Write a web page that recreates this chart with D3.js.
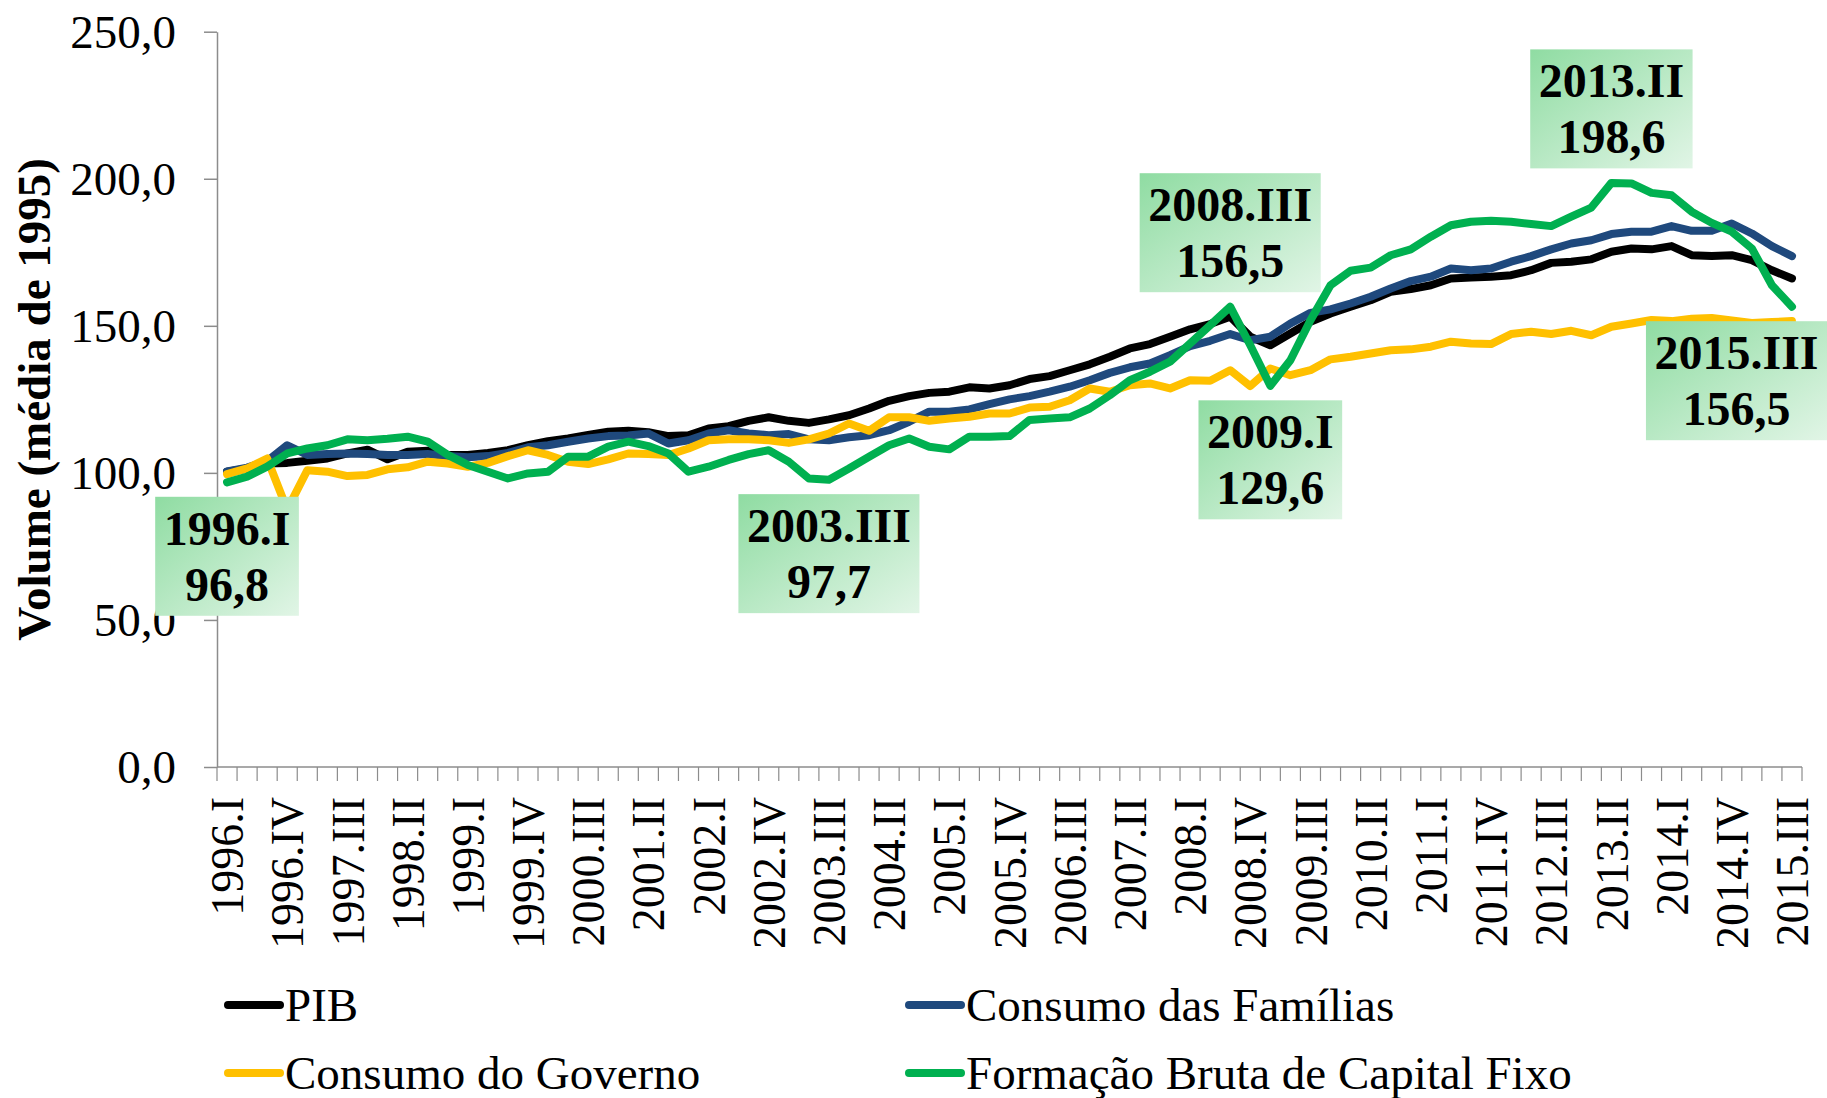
<!DOCTYPE html>
<html>
<head>
<meta charset="utf-8">
<script src="https://cdn.jsdelivr.net/npm/d3@7"></script>
<style>
  html, body { margin: 0; padding: 0; background: #fff; }
  svg { display: block; }
  text { font-family: "Liberation Serif", "Times New Roman", serif; }
</style>
</head>
<body>
<svg id="chart" width="1827" height="1098"></svg>
<script>
// ---------------- DATA ----------------
const categories = [
  "1996.I","1996.II","1996.III","1996.IV",
  "1997.I","1997.II","1997.III","1997.IV",
  "1998.I","1998.II","1998.III","1998.IV",
  "1999.I","1999.II","1999.III","1999.IV",
  "2000.I","2000.II","2000.III","2000.IV",
  "2001.I","2001.II","2001.III","2001.IV",
  "2002.I","2002.II","2002.III","2002.IV",
  "2003.I","2003.II","2003.III","2003.IV",
  "2004.I","2004.II","2004.III","2004.IV",
  "2005.I","2005.II","2005.III","2005.IV",
  "2006.I","2006.II","2006.III","2006.IV",
  "2007.I","2007.II","2007.III","2007.IV",
  "2008.I","2008.II","2008.III","2008.IV",
  "2009.I","2009.II","2009.III","2009.IV",
  "2010.I","2010.II","2010.III","2010.IV",
  "2011.I","2011.II","2011.III","2011.IV",
  "2012.I","2012.II","2012.III","2012.IV",
  "2013.I","2013.II","2013.III","2013.IV",
  "2014.I","2014.II","2014.III","2014.IV",
  "2015.I","2015.II","2015.III"
];

const xTickLabels = [
  "1996.I","1996.IV","1997.III","1998.II","1999.I","1999.IV","2000.III",
  "2001.II","2002.I","2002.IV","2003.III","2004.II","2005.I","2005.IV",
  "2006.III","2007.II","2008.I","2008.IV","2009.III","2010.II","2011.I",
  "2011.IV","2012.III","2013.II","2014.I","2014.IV","2015.III"
];

const yTickValues = [0, 50, 100, 150, 200, 250];

const pib = [
  100.4,101.5,103.2,103.4, 104.1,104.9,106.6,107.9, 104.6,107.2,107.5,106.1,
  106.1,106.8,107.7,109.4, 110.8,111.7,112.9,114.0, 114.3,113.8,112.5,112.8,
  115.1,115.9,117.7,118.9, 117.7,117.0,118.2,119.6, 121.9,124.5,126.1,127.2,
  127.6,129.1,128.7,129.8, 131.9,132.9,134.9,136.9, 139.5,142.3,143.8,146.3,
  148.8,150.6,153.1,146.3, 143.4,147.4,151.4,154.2, 156.5,158.7,161.6,162.5,
  163.8,166.1,166.4,166.7, 167.2,168.9,171.4,171.8, 172.6,175.2,176.3,176.0,
  177.1,174.0,173.7,174.0, 172.3,168.9,166.1
];

const familias = [
  100.5,101.8,104.0,109.4, 106.1,106.4,106.6,106.4, 106.1,106.1,106.4,105.7,
  105.3,105.7,106.8,108.7, 109.4,110.6,111.7,112.5, 112.7,113.4,110.0,111.1,
  113.4,114.5,113.4,112.8, 113.2,111.4,111.1,112.1, 112.8,114.5,117.4,120.8,
  120.8,121.6,123.4,125.0, 126.1,127.6,129.3,131.5, 134.0,135.9,137.2,140.0,
  143.1,144.9,147.2,145.1, 146.3,150.8,154.4,155.6, 157.6,159.9,162.7,165.2,
  166.7,169.5,168.9,169.5, 171.8,173.7,176.0,178.0, 179.1,181.2,182.0,182.0,
  183.9,182.3,182.3,184.8, 181.4,177.1,173.7
];

const governo = [
  99.6,101.5,104.9,87.5, 100.9,100.4,98.9,99.3, 101.2,101.9,103.8,103.2,
  102.1,103.4,105.7,107.7, 106.1,103.8,103.0,104.6, 106.6,106.4,106.1,108.3,
  111.1,111.4,111.4,111.1, 110.2,111.4,113.4,116.8, 114.3,118.9,118.9,117.7,
  118.5,119.1,120.2,120.2, 122.2,122.5,124.7,128.7, 127.6,129.8,130.4,128.7,
  131.5,131.3,134.9,129.5, 135.5,133.2,134.9,138.6, 139.5,140.6,141.7,142.0,
  142.9,144.6,144.0,143.8, 147.2,148.0,147.2,148.3, 146.8,149.7,150.8,152.0,
  151.6,152.4,152.7,151.8, 151.0,151.3,151.6
];

const fbcf = [
  96.8,98.7,102.1,106.6, 108.3,109.4,111.4,111.1, 111.6,112.3,110.6,106.1,
  102.7,100.4,98.1,99.8, 100.4,105.5,105.5,108.9, 110.6,109.1,106.6,100.4,
  102.1,104.4,106.4,107.7, 103.8,98.1,97.7,101.5, 105.5,109.4,111.7,108.9,
  108.0,112.3,112.3,112.5, 118.0,118.5,118.9,121.9, 126.4,131.5,134.4,137.8,
  144.0,150.2,156.5,143.4, 129.6,138.3,151.9,163.8, 168.7,169.8,174.0,176.0,
  180.3,184.2,185.4,185.7, 185.4,184.6,183.9,187.1, 190.2,198.6,198.4,195.2,
  194.4,188.8,185.0,182.0, 176.3,163.8,156.5
];

const seriesNames = ["PIB", "Consumo das Famílias", "Consumo do Governo", "Formação Bruta de Capital Fixo"];
const seriesValues = [pib, familias, governo, fbcf];
const seriesColors = ["#000000", "#1F497D", "#FFC000", "#00B050"];

const annotationCats   = ["1996.I", "2003.III", "2008.III", "2009.I", "2013.II", "2015.III"];
const annotationValues = ["96,8",   "97,7",     "156,5",    "129,6",  "198,6",   "156,5"];
const annotationSide   = ["below",  "below",    "above",    "below",  "above",   "below"];

// ---------------- LAYOUT ----------------
const W = 1827, H = 1098;
const plot = { left: 217, right: 1802, top: 31.7, bottom: 767 };

const svg = d3.select("#chart");

const x = d3.scaleBand().domain(categories).range([plot.left, plot.right]).padding(0);
const xc = c => x(c) + x.bandwidth() / 2;
const y = d3.scaleLinear().domain([0, 250]).range([plot.bottom, plot.top]);

const axisColor = "#8C8C8C";

// Y axis
const yAxis = d3.axisLeft(y)
  .tickValues(yTickValues)
  .tickFormat(d => d.toFixed(1).replace(".", ","))
  .tickSize(13)
  .tickSizeOuter(0)
  .tickPadding(28);

const gy = svg.append("g")
  .attr("transform", `translate(${plot.left},0)`)
  .call(yAxis);
gy.select(".domain").attr("stroke", axisColor).attr("stroke-width", 1.5);
gy.selectAll(".tick line").attr("stroke", axisColor).attr("stroke-width", 1.5);
gy.selectAll(".tick text")
  .attr("font-family", "Liberation Serif")
  .attr("font-size", 47)
  .attr("fill", "#000")
  .attr("dy", "0.33em");

// X axis line + ticks at category boundaries
const gx = svg.append("g");
gx.append("line")
  .attr("x1", plot.left).attr("x2", plot.right)
  .attr("y1", plot.bottom).attr("y2", plot.bottom)
  .attr("stroke", axisColor).attr("stroke-width", 1.5);

const boundaries = categories.map(c => x(c)).concat([x(categories[categories.length - 1]) + x.bandwidth()]);
gx.selectAll("line.tick")
  .data(boundaries)
  .join("line")
  .attr("class", "tick")
  .attr("x1", d => d).attr("x2", d => d)
  .attr("y1", plot.bottom).attr("y2", plot.bottom + 14)
  .attr("stroke", axisColor).attr("stroke-width", 1.2);

gx.selectAll("text.xlab")
  .data(xTickLabels)
  .join("text")
  .attr("class", "xlab")
  .attr("transform", d => `translate(${xc(d)},${plot.bottom + 30}) rotate(-90)`)
  .attr("text-anchor", "end")
  .attr("dy", "0.35em")
  .attr("font-size", 46)
  .attr("fill", "#000")
  .text(d => d);

// Y axis title
svg.append("text")
  .attr("transform", `translate(34,${(plot.top + plot.bottom) / 2}) rotate(-90)`)
  .attr("text-anchor", "middle")
  .attr("dy", "0.35em")
  .attr("font-size", 47)
  .attr("font-weight", "bold")
  .attr("fill", "#000")
  .text("Volume (média de 1995)");

// Lines
const line = d3.line()
  .x((d, i) => xc(categories[i]))
  .y(d => y(d));

svg.append("g").selectAll("path.series")
  .data(seriesValues)
  .join("path")
  .attr("class", "series")
  .attr("d", d => line(d))
  .attr("fill", "none")
  .attr("stroke", (d, i) => seriesColors[i])
  .attr("stroke-width", 8)
  .attr("stroke-linejoin", "round")
  .attr("stroke-linecap", "round");

// Annotation boxes
const defs = svg.append("defs");
const grad = defs.append("linearGradient")
  .attr("id", "boxGrad")
  .attr("x1", "0%").attr("y1", "0%").attr("x2", "100%").attr("y2", "100%");
grad.append("stop").attr("offset", "0%").attr("stop-color", "#8FDCA2");
grad.append("stop").attr("offset", "100%").attr("stop-color", "#E1F5E6");

const gAnn = svg.append("g");
annotationCats.forEach((cat, k) => {
  const idx = categories.indexOf(cat);
  const px = xc(cat);
  const py = y(fbcf[idx]);
  const g = gAnn.append("g");
  const rect = g.append("rect").attr("fill", "url(#boxGrad)");
  const t1 = g.append("text")
    .attr("text-anchor", "middle").attr("font-size", 48).attr("font-weight", "bold").attr("fill", "#000")
    .text(cat);
  const t2 = g.append("text")
    .attr("text-anchor", "middle").attr("font-size", 48).attr("font-weight", "bold").attr("fill", "#000")
    .text(annotationValues[k]);
  const tw = Math.max(t1.node().getComputedTextLength(), t2.node().getComputedTextLength());
  const bw = tw + 17, bh = 119;
  let left = px - bw / 2;
  if (left + bw > W) left = W - bw;
  const top = annotationSide[k] === "below" ? py + 14.5 : py - 14.5 - bh;
  rect.attr("x", left).attr("y", top).attr("width", bw).attr("height", bh);
  const cx = left + bw / 2;
  t1.attr("x", cx).attr("y", top + 48);
  t2.attr("x", cx).attr("y", top + 104);
});

// Legend
const legendPos = [
  { x: 225, y: 1005 },
  { x: 906, y: 1005 },
  { x: 225, y: 1073 },
  { x: 906, y: 1073 }
];
const gLeg = svg.append("g");
seriesNames.forEach((name, i) => {
  const p = legendPos[i];
  gLeg.append("line")
    .attr("x1", p.x + 3).attr("x2", p.x + 55)
    .attr("y1", p.y).attr("y2", p.y)
    .attr("stroke", seriesColors[i]).attr("stroke-width", 8)
    .attr("stroke-linecap", "round");
  gLeg.append("text")
    .attr("x", p.x + 60).attr("y", p.y + 16)
    .attr("font-size", 47).attr("fill", "#000")
    .text(name);
});
</script>
</body>
</html>
